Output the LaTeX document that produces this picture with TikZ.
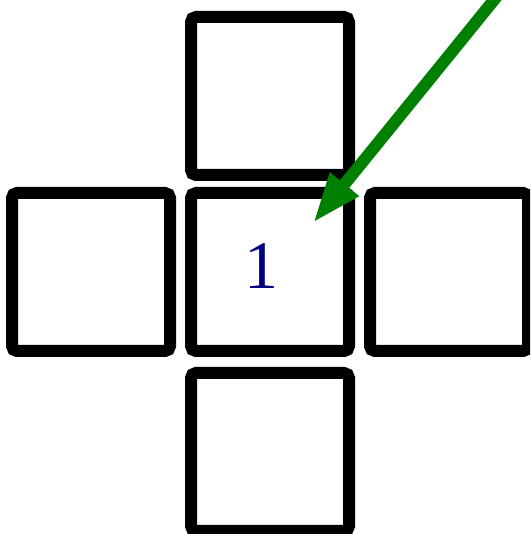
\documentclass[tikz,border=0pt]{standalone}
\usepackage{fontspec}
\setmainfont{Liberation Serif}
\usetikzlibrary{arrows.meta, positioning}
\definecolor{ArrowGreen}{RGB}{0, 128, 0}
\definecolor{LabelNavy}{RGB}{0, 0, 128}
\tikzset{
    cellbox/.style={
        rectangle,
        rounded corners=2.5pt,
        draw=black,
        fill=white,
        line width=6pt,
        minimum size=79pt,
        inner sep=0pt
    },
    pointer/.style={
        -{Triangle[length=25pt, width=17pt]},
        line width=6pt,
        color=ArrowGreen
    },
    celllabel/.style={
        font=\fontsize{34pt}{36pt}\selectfont,
        text=LabelNavy
    },
}
\begin{document}
\begin{tikzpicture}[x=0.5pt, y=0.5pt]
    \useasboundingbox (0,0) rectangle (530,534);
    \clip (0,0) rectangle (530,534);
    % cross of cells
    \node[cellbox] (cellC) at (270,262) {};
    \node[cellbox] (cellN) at (270,438) {};
    \node[cellbox] (cellW) at (91,262) {};
    \node[cellbox] (cellE) at (449,262) {};
    \node[cellbox] (cellS) at (270,82) {};
    \node[celllabel] (num) at (261,268) {1};
    % pointer into the middle cell
    \coordinate (source) at (524,571);
    \coordinate (target) at (313,311);
    \draw[pointer] (source) -- (target);
\end{tikzpicture}
\end{document}
